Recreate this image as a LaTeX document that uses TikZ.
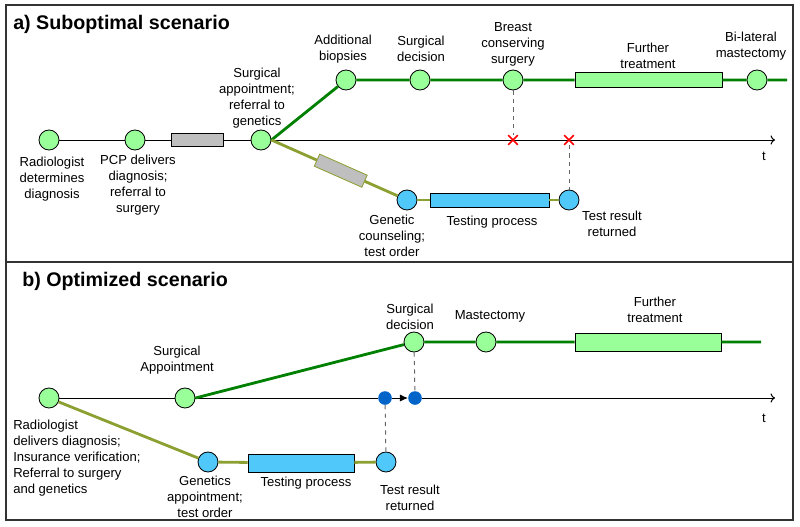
\documentclass[tikz,border=0pt]{standalone}
\usepackage{fontspec}
\setmainfont{Liberation Sans}
\usepackage{tikz}
\usetikzlibrary{shapes.misc,arrows.meta}
\definecolor{lgreen}{RGB}{153,255,153}
\definecolor{dgreen}{RGB}{0,128,0}
\definecolor{oliveline}{RGB}{140,160,50}
\definecolor{lblue}{RGB}{80,200,250}
\definecolor{dblue}{RGB}{0,100,200}
\tikzset{
  event/.style={circle,draw,fill=lgreen,minimum size=5mm,inner sep=0pt,line width=0.6pt},
  gevent/.style={event,fill=lblue},
  dot/.style={circle,fill=dblue,minimum size=3.4mm,inner sep=0pt},
  phase/.style={rectangle,draw,inner sep=0pt,line width=0.6pt},
  lbl/.style={font=\fontsize{9.3}{11.4}\selectfont,align=center,inner sep=0pt},
  ttl/.style={font=\fontsize{14}{16}\selectfont\bfseries,anchor=west,inner sep=0pt},
  track/.style={dgreen,line width=2pt},
  gtrack/.style={oliveline,line width=2pt},
  axis/.style={line width=0.7pt},
  wait/.style={dashed,black!60,line width=0.7pt},
  miss/.style={cross out,draw=red,line width=1.2pt,minimum size=2mm,inner sep=0pt},
  frame/.style={black!80,line width=0.8pt}
}
\begin{document}
\begin{tikzpicture}[x=0.25mm,y=-0.25mm]
\useasboundingbox (0,0) rectangle (800,526);
\draw[frame] (6,5) rectangle (793,520);
\draw[frame] (6,262) -- (793,262);

% a) suboptimal scenario
\node[ttl] (ta) at (13,24) {a) Suboptimal scenario};
\node[event] (rad) at (49,140) {};
\node[event] (pcp) at (135,140) {};
\node[phase,fill=gray!50,minimum width=12.8mm,minimum height=3.3mm] (wa) at (197.5,140) {};
\node[event] (sap) at (261,140) {};
\coordinate (ta-end) at (775,140);
\draw[axis,->] (rad) -- (pcp) -- (wa) -- (sap) -- (ta-end);

\node[event] (bio) at (346,80) {};
\node[event] (sdec) at (420,80) {};
\node[event] (bcs) at (513,80) {};
\node[phase,fill=lgreen,minimum width=36.75mm,minimum height=3.8mm] (fta) at (648.5,80) {};
\node[event] (bil) at (757,80) {};
\coordinate (fa-end) at (787,80);
\draw[track] (sap.east) -- (bio) -- (sdec) -- (bcs) -- (fta) -- (bil) -- (fa-end);

\node[gevent] (gco) at (407,200) {};
\node[phase,fill=lblue,minimum width=29.75mm,minimum height=3.5mm] (tpa) at (489.5,200) {};
\node[gevent] (tra) at (569,200) {};
\draw[gtrack] (sap.east) -- node[phase,fill=gray!50,sloped,pos=0.55,minimum width=13mm,minimum height=3.3mm] (wg) {} (gco);
\draw[gtrack] (gco) -- (tpa) -- (tra);

\node[miss] (xa) at (513,140) {};
\node[miss] (xb) at (569,140) {};
\draw[wait] (bcs) -- (xa);
\draw[wait] (xb) -- (tra);

\node[lbl] (l-rad) at (52,179) {Radiologist\\determines\\diagnosis};
\node[lbl] (l-pcp) at (138,185) {PCP delivers\\diagnosis;\\referral to\\surgery};
\node[lbl] (l-sap) at (257,98) {Surgical\\appointment;\\referral to\\genetics};
\node[lbl] (l-bio) at (343,49) {Additional\\biopsies};
\node[lbl] (l-sdec) at (421,49) {Surgical\\decision};
\node[lbl] (l-bcs) at (513,44) {Breast\\conserving\\surgery};
\node[lbl] (l-fta) at (648,56) {Further\\treatment};
\node[lbl] (l-bil) at (751,46) {Bi-lateral\\mastectomy};
\node[lbl] (l-gco) at (392,236) {Genetic\\counseling;\\test order};
\node[lbl] (l-tpa) at (492,222) {Testing process};
\node[lbl] (l-tra) at (612,224) {Test result\\returned};
\node[lbl] (l-ta) at (764,156) {t};

% b) optimized scenario
\node[ttl] (tb) at (22,281) {b) Optimized scenario};
\node[event] (rdx) at (49,398) {};
\node[event] (sapb) at (185,398) {};
\node[dot] (res) at (385,398) {};
\node[dot] (dec) at (415,398) {};
\coordinate (tb-end) at (775,398);
\draw[axis] (rdx) -- (sapb) -- (res);
\draw[axis,-{Latex[length=2mm,width=1.8mm]}] (res) -- (dec);
\draw[axis,->] (dec) -- (tb-end);

\node[event] (sdb) at (414,342) {};
\node[event] (mas) at (486,342) {};
\node[phase,fill=lgreen,minimum width=36.5mm,minimum height=4.5mm] (ftb) at (648,342) {};
\coordinate (fb-end) at (761,342);
\draw[track] (sapb.east) -- (sdb) -- (mas) -- (ftb) -- (fb-end);

\node[gevent] (gap) at (208,462) {};
\node[phase,fill=lblue,minimum width=26.5mm,minimum height=4.5mm] (tpb) at (301,463) {};
\node[gevent] (trb) at (386,462) {};
\draw[gtrack] (rdx) -- (gap) -- (tpb) -- (trb);
\draw[wait] (sdb) -- (dec);
\draw[wait] (res) -- (trb);

\node[lbl,align=left,anchor=west] (l-rdx) at (13,458) {Radiologist\\delivers diagnosis;\\Insurance verification;\\Referral to surgery\\and genetics};
\node[lbl] (l-sapb) at (177,360) {Surgical\\Appointment};
\node[lbl] (l-sdb) at (410,317) {Surgical\\decision};
\node[lbl] (l-mas) at (490,316) {Mastectomy};
\node[lbl] (l-ftb) at (655,310) {Further\\treatment};
\node[lbl] (l-gap) at (205,497) {Genetics\\appointment;\\test order};
\node[lbl] (l-tpb) at (306,483) {Testing process};
\node[lbl] (l-trb) at (410,498) {Test result\\returned};
\node[lbl] (l-tb) at (764,418) {t};
\end{tikzpicture}
\end{document}
